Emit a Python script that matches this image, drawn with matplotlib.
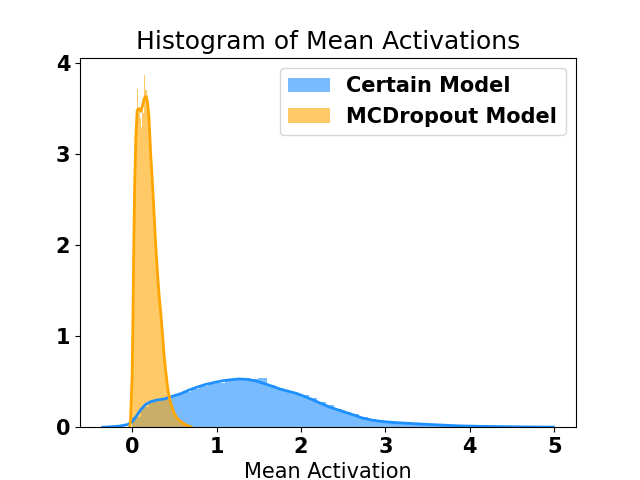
import matplotlib
matplotlib.use("Agg")
import matplotlib.pyplot as plt
import numpy as np

# ==================================================
# DATA
# ==================================================
labels = ["Certain Model", "MCDropout Model"]

# Certain model: histogram, 50 bins between 0.0 and 4.98
certain_bin_lo = 0.0
certain_bin_hi = 4.98
certain_hist = [0.11, 0.22, 0.29, 0.30, 0.33, 0.36, 0.39, 0.42, 0.45, 0.47,
                0.49, 0.51, 0.545, 0.54, 0.53, 0.535, 0.46, 0.43, 0.40, 0.38,
                0.35, 0.32, 0.28, 0.24, 0.20, 0.17, 0.14, 0.11, 0.085, 0.07,
                0.058, 0.05, 0.043, 0.038, 0.033, 0.028, 0.024, 0.02, 0.017, 0.014,
                0.011, 0.009, 0.008, 0.007, 0.006, 0.005, 0.004, 0.003, 0.003, 0.002]

# Certain model: kde curve
certain_kde_x = [-0.35, -0.25, -0.15, -0.05, 0.0, 0.05, 0.1, 0.16, 0.22, 0.3,
                 0.38, 0.48, 0.58, 0.68, 0.77, 0.87, 0.97, 1.07, 1.16, 1.26,
                 1.36, 1.46, 1.56, 1.66, 1.75, 1.85, 1.95, 2.05, 2.14, 2.24,
                 2.34, 2.44, 2.54, 2.64, 2.73, 2.83, 2.93, 3.03, 3.13, 3.32,
                 3.52, 3.7, 3.87, 4.1, 4.4, 4.7, 4.99]
certain_kde_y = [0.0, 0.005, 0.012, 0.03, 0.06, 0.12, 0.19, 0.25, 0.28, 0.30,
                 0.31, 0.34, 0.37, 0.41, 0.44, 0.47, 0.49, 0.51, 0.52, 0.53,
                 0.525, 0.51, 0.48, 0.45, 0.42, 0.395, 0.37, 0.335, 0.30, 0.26,
                 0.22, 0.19, 0.16, 0.13, 0.10, 0.08, 0.066, 0.057, 0.05, 0.04,
                 0.03, 0.022, 0.015, 0.01, 0.006, 0.003, 0.001]

# MCDropout model: histogram, 50 bins between 0.0 and 0.66
mcd_bin_lo = 0.0
mcd_bin_hi = 0.66
mcd_hist = [1.0, 2.2, 2.9, 3.3, 3.72, 3.45, 3.5, 3.4, 3.3, 3.55,
            3.45, 3.87, 3.7, 3.65, 3.5, 3.25, 3.0, 2.75, 2.55, 2.35,
            2.1, 1.95, 1.75, 1.6, 1.45, 1.3, 1.12, 0.98, 0.82, 0.7,
            0.58, 0.47, 0.38, 0.31, 0.26, 0.21, 0.18, 0.15, 0.12, 0.10,
            0.09, 0.07, 0.06, 0.05, 0.045, 0.035, 0.03, 0.02, 0.015, 0.01]

# MCDropout model: kde curve
mcd_kde_x = [-0.03, -0.02, -0.01, 0.0, 0.01, 0.02, 0.03, 0.045, 0.06, 0.08,
             0.1, 0.12, 0.14, 0.155, 0.17, 0.185, 0.2, 0.22, 0.24, 0.26,
             0.28, 0.30, 0.32, 0.34, 0.36, 0.38, 0.40, 0.42, 0.44, 0.46,
             0.48, 0.5, 0.54, 0.58, 0.62, 0.66, 0.7]
mcd_kde_y = [0.0, 0.05, 0.3, 0.55, 1.2, 2.0, 2.65, 3.2, 3.48, 3.5,
             3.47, 3.52, 3.6, 3.63, 3.62, 3.55, 3.4, 3.0, 2.7, 2.35,
             2.0, 1.7, 1.45, 1.25, 1.02, 0.78, 0.6, 0.44, 0.33, 0.26,
             0.2, 0.15, 0.09, 0.06, 0.035, 0.015, 0.0]

yticks = [0, 1, 2, 3, 4]

# ==================================================
# PLOT
# ==================================================
def draw_dist(ax, lo, hi, heights, kx, ky, color, label):
    edges = np.linspace(lo, hi, len(heights) + 1)
    ax.bar(edges[:-1], heights, width=np.diff(edges), align="edge",
           color=color, alpha=0.6, linewidth=0, label=label)
    ax.plot(kx, ky, color=color, linewidth=2)


fig, ax = plt.subplots(figsize=(6.4, 4.8), dpi=100)
draw_dist(ax, certain_bin_lo, certain_bin_hi, certain_hist,
          certain_kde_x, certain_kde_y, "dodgerblue", labels[0])
draw_dist(ax, mcd_bin_lo, mcd_bin_hi, mcd_hist,
          mcd_kde_x, mcd_kde_y, "orange", labels[1])

ax.set_ylim(0, 4.06)
ax.set_yticks(yticks)
ax.set_title("Histogram of Mean Activations", fontsize=18)
ax.set_xlabel("Mean Activation", fontsize=15)
for t in ax.get_xticklabels() + ax.get_yticklabels():
    t.set_fontsize(15)
    t.set_fontweight("bold")
ax.legend(prop={"size": 15, "weight": "bold"}, loc="upper right")

fig.savefig("out.png", dpi=100)
